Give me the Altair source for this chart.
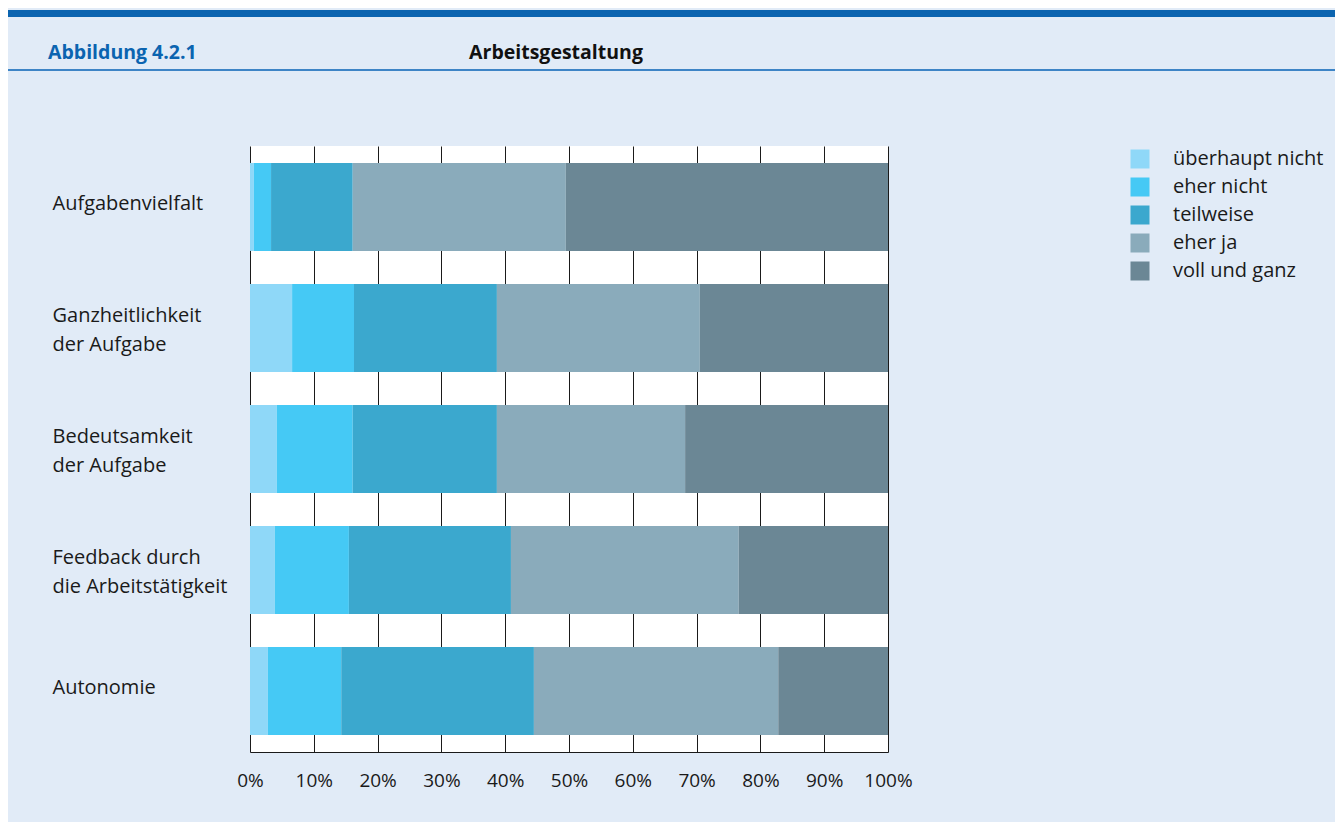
import altair as alt
import pandas as pd

categories = ["Aufgabenvielfalt", "Ganzheitlichkeit\nder Aufgabe", "Bedeutsamkeit\nder Aufgabe",
              "Feedback durch\ndie Arbeitstätigkeit", "Autonomie"]
levels = ["überhaupt nicht", "eher nicht", "teilweise", "eher ja", "voll und ganz"]
colors = ["#8fd8f8", "#45c9f5", "#3ba8ce", "#8aabbb", "#6b8795"]

ueberhaupt_nicht = [0.6, 6.6, 4.2, 3.9, 2.8]
eher_nicht = [2.7, 9.7, 11.9, 11.6, 11.5]
teilweise = [12.8, 22.4, 22.6, 25.4, 30.2]
eher_ja = [33.4, 31.8, 29.5, 35.7, 38.3]
voll_und_ganz = [50.5, 29.5, 31.8, 23.4, 17.2]

series = [ueberhaupt_nicht, eher_nicht, teilweise, eher_ja, voll_und_ganz]
rows = []
for li, (lev, vals) in enumerate(zip(levels, series)):
    for cat, v in zip(categories, vals):
        rows.append({"Kategorie": cat, "Antwort": lev, "Anteil": v / 100.0, "Rang": li})
df = pd.DataFrame(rows)

FONT = "Open Sans"
TXT = "#1a1a1a"

bars = alt.Chart(df).mark_bar(size=88).encode(
    y=alt.Y("Kategorie:N", sort=categories, title=None,
            scale=alt.Scale(paddingInner=0.273, paddingOuter=0.14),
            axis=alt.Axis(labelExpr="split(datum.label, '\\n')", labelAlign="left",
                          labelBaseline="middle",
                          labelOffset={"condition": {"test": "indexof(datum.value, '\\n') >= 0",
                                                     "value": -12},
                                       "value": -3},
                          labelPadding=198, ticks=False, domain=False, grid=False,
                          labelFontSize=20, labelLineHeight=29, labelColor=TXT,
                          labelFont=FONT, labelLimit=0)),
    x=alt.X("Anteil:Q", stack="zero", title=None,
            scale=alt.Scale(domain=[0, 1], nice=False),
            axis=alt.Axis(format="%", values=[i / 10 for i in range(11)], grid=True,
                          gridColor=TXT, gridWidth=1, gridOpacity=1,
                          ticks=False, domain=True, domainColor=TXT, domainWidth=1,
                          labelFontSize=19, labelColor=TXT, labelFont=FONT,
                          labelPadding=19, labelFlush=False)),
    color=alt.Color("Antwort:N", sort=levels,
                    scale=alt.Scale(domain=levels, range=colors),
                    legend=alt.Legend(title=None, orient="none", legendX=880, legendY=3,
                                      symbolType="square", symbolSize=361,
                                      symbolStrokeWidth=0, labelFontSize=20,
                                      labelFont=FONT, labelColor=TXT,
                                      labelOffset=23, rowPadding=8)),
    order=alt.Order("Rang:Q", sort="ascending"),
)

hdr = pd.DataFrame({"a": [0]})
band = alt.Chart(hdr).mark_rule(color="#0b64b0", strokeWidth=7).encode(
    x=alt.value(-244), x2=alt.value(1085), y=alt.value(-132.5))
line = alt.Chart(hdr).mark_rule(color="#3d84c6", strokeWidth=2).encode(
    x=alt.value(-244), x2=alt.value(1085), y=alt.value(-76))
fig = alt.Chart(hdr).mark_text(text="Abbildung 4.2.1", font=FONT, fontSize=19.5,
                               fontWeight="bold", color="#0b64b0", align="left",
                               baseline="middle").encode(x=alt.value(-202), y=alt.value(-93))
ttl = alt.Chart(hdr).mark_text(text="Arbeitsgestaltung", font=FONT, fontSize=19.5,
                               fontWeight="bold", color="#111111", align="center",
                               baseline="middle").encode(x=alt.value(306), y=alt.value(-93))

chart = alt.layer(bars, band, line, fig, ttl).properties(
    width=638, height=606,
    autosize=alt.AutoSizeParams(type="none"),
    padding={"left": 242, "top": 138, "right": 447, "bottom": 70},
    background="#e1ebf7",
).configure_view(fill="white", stroke=None)

chart.save("out.html", embed_options={"renderer": "svg", "actions": False})
